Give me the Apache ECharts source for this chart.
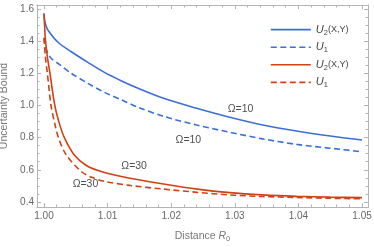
<!DOCTYPE html>
<html><head><meta charset="utf-8">
<script src="https://cdn.jsdelivr.net/npm/echarts@6/dist/echarts.min.js"></script>
<style>html,body{margin:0;padding:0;background:#fff}#c{width:374px;height:247px}</style>
</head><body><div id="c"></div>
<script>
// ---- data ----
const xTicks = [1.00, 1.01, 1.02, 1.03, 1.04, 1.05];
const yTicks = [0.4, 0.6, 0.8, 1.0, 1.2, 1.4, 1.6];
const xMinorTicks = [1.002,1.004,1.006,1.008,1.012,1.014,1.016,1.018,1.022,1.024,1.026,1.028,1.032,1.034,1.036,1.038,1.042,1.044,1.046,1.048];
const yMinorTicks = [0.45,0.5,0.55,0.65,0.7,0.75,0.85,0.9,0.95,1.05,1.1,1.15,1.25,1.3,1.35,1.45,1.5,1.55];

const blueSolidX = [1.0000,1.0001,1.0003,1.0006,1.0022,1.0043,1.0069,1.0095,1.0122,1.0148,1.0188,1.0240,1.0292,1.0344,1.0397,1.0450,1.0500];
const blueSolidY = [1.571,1.530,1.498,1.468,1.392,1.333,1.267,1.205,1.152,1.106,1.044,0.982,0.926,0.878,0.841,0.810,0.785];

const blueDashX = [1.0000,1.0002,1.0006,1.0012,1.0022,1.0043,1.0069,1.0095,1.0122,1.0148,1.0188,1.0240,1.0292,1.0344,1.0397,1.0450,1.0500];
const blueDashY = [1.420,1.370,1.323,1.290,1.261,1.199,1.137,1.081,1.034,0.988,0.932,0.878,0.833,0.792,0.758,0.734,0.712];

const redSolidX = [1.0000,1.0001,1.0002,1.0005,1.0009,1.0017,1.0024,1.0032,1.0048,1.0066,1.0085,1.0106,1.0135,1.0188,1.0241,1.0292,1.0344,1.0397,1.0450,1.0500];
const redSolidY = [1.571,1.490,1.420,1.310,1.210,1.000,0.890,0.800,0.690,0.628,0.595,0.572,0.548,0.512,0.480,0.458,0.444,0.435,0.430,0.427];

const redDashX = [1.0000,1.0002,1.0005,1.0011,1.0017,1.0023,1.0035,1.0059,1.0075,1.0095,1.0135,1.0188,1.0241,1.0292,1.0344,1.0397,1.0450,1.0500];
const redDashY = [1.420,1.310,1.210,1.000,0.885,0.796,0.692,0.588,0.553,0.528,0.503,0.480,0.460,0.444,0.434,0.428,0.423,0.420];

const curveLabelText = ['Ω=10', 'Ω=10', 'Ω=30', 'Ω=30'];
const curveLabelX = [1.0309, 1.0227, 1.01417, 1.00652];
const curveLabelY = [0.975, 0.787, 0.624, 0.510];

// ---- styling ----
const BLUE = '#3b6fd8';
const RED = '#cf4214';
const FRAME = '#b4b4b4';
const LABEL = '#666666';
const FONT = '"Liberation Sans", Arial, sans-serif';
const xMin = 0.99890, xMax = 1.05094;
const yMin = 0.3689, yMax = 1.6236;

function zip(xs, ys) { return xs.map((x, i) => [x, ys[i]]); }

function xAxisDef(pos, ticks, len, labels) {
  return {
    type: 'value', position: pos, min: xMin, max: xMax,
    axisLine: { show: true, lineStyle: { color: FRAME, width: 1 } },
    axisTick: { show: true, inside: true, length: len, customValues: ticks, lineStyle: { color: FRAME } },
    axisLabel: labels ? { show: true, customValues: ticks, formatter: v => v.toFixed(2), color: LABEL, fontSize: 10, fontFamily: FONT, margin: 4 } : { show: false },
    splitLine: { show: false }
  };
}
function yAxisDef(pos, ticks, len, labels) {
  return {
    type: 'value', position: pos, min: yMin, max: yMax,
    axisLine: { show: true, lineStyle: { color: FRAME, width: 1 } },
    axisTick: { show: true, inside: true, length: len, customValues: ticks, lineStyle: { color: FRAME } },
    axisLabel: labels ? { show: true, customValues: ticks, formatter: v => v.toFixed(1), color: LABEL, fontSize: 10, fontFamily: FONT, margin: 3 } : { show: false },
    splitLine: { show: false }
  };
}

const xAxes = [
  xAxisDef('bottom', xTicks, 4, true),
  xAxisDef('bottom', xMinorTicks, 2.5, false),
  xAxisDef('top', xTicks, 4, false),
  xAxisDef('top', xMinorTicks, 2.5, false)
];
xAxes[0].name = '{a|Distance }{r|R}{s|0}';
xAxes[0].nameLocation = 'middle';
xAxes[0].nameGap = 22;
xAxes[0].nameTextStyle = {
  rich: {
    a: { color: '#777', fontSize: 10.5, fontFamily: FONT, lineHeight: 14 },
    r: { color: '#777', fontSize: 10.5, fontFamily: FONT, fontStyle: 'italic', lineHeight: 14 },
    s: { color: '#777', fontSize: 7.5, fontFamily: FONT, lineHeight: 8, verticalAlign: 'bottom' }
  }
};
const yAxes = [
  yAxisDef('left', yTicks, 4, true),
  yAxisDef('left', yMinorTicks, 2.5, false),
  yAxisDef('right', yTicks, 4, false),
  yAxisDef('right', yMinorTicks, 2.5, false)
];
yAxes[0].name = 'Uncertainty Bound';
yAxes[0].nameLocation = 'middle';
yAxes[0].nameGap = 23;
yAxes[0].nameTextStyle = { color: '#777', fontSize: 10.5, fontFamily: FONT };

function lineSeries(name, xs, ys, color, dashed) {
  return {
    name: name, type: 'line', xAxisIndex: 0, yAxisIndex: 0,
    data: zip(xs, ys), symbol: 'none', showSymbol: false, smooth: 0.3,
    lineStyle: { color: color, width: 1.6, type: dashed ? [6, 3.5] : 'solid' },
    itemStyle: { color: color }, silent: true, z: 3
  };
}

const chart = echarts.init(document.getElementById('c'), null, { renderer: 'canvas' });
chart.setOption({
  animation: false,
  backgroundColor: '#fff',
  grid: { left: 37, right: 6, top: 5, bottom: 40, containLabel: false, outerBoundsMode: 'none' },
  xAxis: xAxes,
  yAxis: yAxes,
  legend: {
    orient: 'vertical', left: 270, top: 24, padding: 0,
    itemWidth: 40, itemHeight: 14, itemGap: 5,
    data: ['U2 blue', 'U1 blue', 'U2 red', 'U1 red'],
    selectedMode: false,
    itemStyle: { opacity: 0 },
    lineStyle: { width: 1.6 },
    formatter: n => n.indexOf('U2') === 0 ? '{u|U}{s|2}{p|(X,Y)}' : '{u|U}{s|1}',
    textStyle: {
      rich: {
        u: { color: '#444', fontSize: 11, fontStyle: 'italic', fontFamily: FONT, lineHeight: 14 },
        s: { color: '#444', fontSize: 7.5, fontFamily: FONT, lineHeight: 8, verticalAlign: 'bottom' },
        p: { color: '#444', fontSize: 9, fontFamily: FONT, lineHeight: 14 }
      }
    }
  },
  series: [
    lineSeries('U2 blue', blueSolidX, blueSolidY, BLUE, false),
    lineSeries('U1 blue', blueDashX, blueDashY, BLUE, true),
    lineSeries('U2 red', redSolidX, redSolidY, RED, false),
    lineSeries('U1 red', redDashX, redDashY, RED, true),
    {
      type: 'scatter', xAxisIndex: 0, yAxisIndex: 0, silent: true,
      symbolSize: 1, itemStyle: { color: 'rgba(0,0,0,0)' },
      data: curveLabelText.map((t, i) => ({ value: [curveLabelX[i], curveLabelY[i]], name: t })),
      label: { show: true, position: 'inside', formatter: p => p.name, color: '#222', fontSize: 10.5, fontFamily: FONT },
      z: 5
    }
  ]
});
</script>
</body></html>
